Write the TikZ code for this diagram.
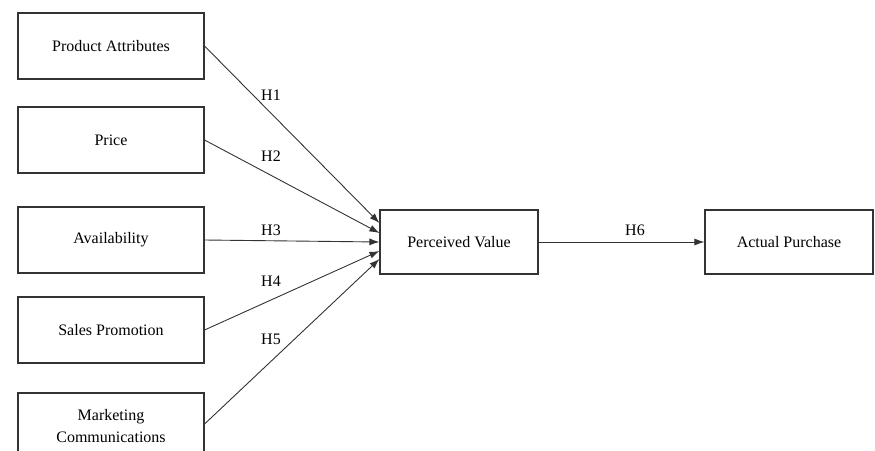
\documentclass[tikz,border=0pt]{standalone}
\usepackage{fontspec}
\setmainfont{Liberation Serif}
\usetikzlibrary{arrows.meta}
\begin{document}
\begin{tikzpicture}[x=1pt,y=-1pt,
  box/.style={draw=black!80, line width=1.1pt, rectangle, inner sep=0pt, align=center, font=\fontsize{16}{22}\selectfont},
  link/.style={draw=black!80, line width=0.9pt, -{Latex[length=10pt,width=7pt]}},
  hyp/.style={font=\fontsize{16}{19}\selectfont}]
\useasboundingbox (0,0) rectangle (875,450);
\clip (0,0) rectangle (875,450);
% antecedent constructs
\node[box, minimum width=186pt, minimum height=66pt] (pa) at (111,46) {Product Attributes};
\node[box, minimum width=186pt, minimum height=66pt] (pr) at (111,140) {Price};
\node[box, minimum width=186pt, minimum height=66pt] (av) at (111,240) {Availability};
\node[box, minimum width=186pt, minimum height=66pt] (sp) at (111,330) {Sales Promotion};
\node[box, minimum width=186pt, minimum height=66pt] (mc) at (111,426) {Marketing\\Communications};
% mediator and outcome
\node[box, minimum width=158pt, minimum height=64pt] (pv) at (459,242) {Perceived Value};
\node[box, minimum width=168pt, minimum height=64pt] (ap) at (789,242) {Actual Purchase};
% arrow end points along the left side of the mediator
\coordinate (t1) at ([yshift=19pt]pv.west);
\coordinate (t2) at ([yshift=9pt]pv.west);
\coordinate (t3) at (pv.west);
\coordinate (t4) at ([yshift=-9pt]pv.west);
\coordinate (t5) at ([yshift=-17pt]pv.west);
% paths
\draw[link] (pa.east) -- (t1);
\draw[link] (pr.east) -- (t2);
\draw[link] (av.east) -- (t3);
\draw[link] (sp.east) -- (t4);
\draw[link] ([yshift=2pt]mc.east) -- (t5);
\draw[link] (pv.east) -- (ap.west);
% hypothesis labels
\node[hyp] (h1) at (271,95) {H1};
\node[hyp] (h2) at (271,156) {H2};
\node[hyp] (h3) at (271,230) {H3};
\node[hyp] (h4) at (271,281) {H4};
\node[hyp] (h5) at (271,339) {H5};
\node[hyp] (h6) at (635,230) {H6};
\end{tikzpicture}
\end{document}
